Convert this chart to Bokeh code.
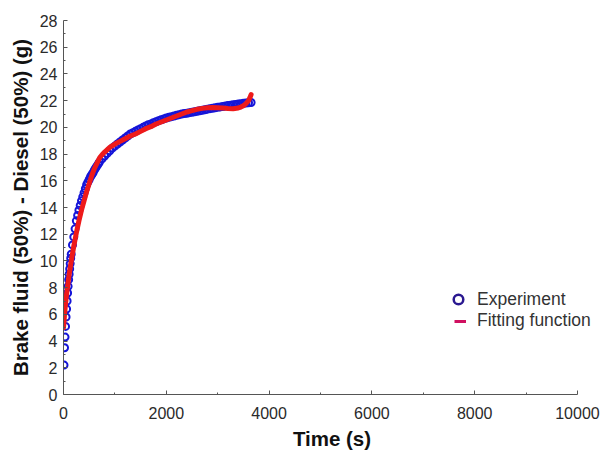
from bokeh.plotting import figure
from bokeh.models import Range1d, FixedTicker, Legend, LegendItem
from bokeh.embed import file_html
from bokeh.resources import INLINE

# Experiment (blue circles): time (s), mass (g)
exp_t = [10, 20, 30, 40, 50, 60, 70, 80, 90, 100, 110, 120, 130, 140, 150,
         175, 200, 225, 250, 275, 300, 325, 350, 375, 400, 425, 450, 475, 500,
         525, 550, 575, 600, 625, 650, 675, 700,
         750, 800, 850, 900, 950, 1000, 1050, 1100, 1150, 1200, 1250, 1300,
         1350, 1400, 1450, 1500, 1550, 1600, 1650, 1700, 1750, 1800, 1850,
         1900, 1950, 2000, 2050, 2100, 2150, 2200, 2250, 2300, 2350, 2400,
         2450, 2500, 2550, 2600, 2650, 2700, 2750, 2800, 2850, 2900, 2950,
         3000, 3050, 3100, 3150, 3200, 3250, 3300, 3350, 3400, 3450, 3500,
         3550, 3600, 3650]
exp_m = [2.2, 3.5, 4.3, 5.1, 5.8, 6.4, 7.0, 7.6, 8.1, 8.6, 9.0, 9.4, 9.8, 10.2, 10.5,
         11.2, 11.8, 12.4, 13.0, 13.4, 13.8, 14.15, 14.5, 14.8, 15.1, 15.4, 15.7, 15.9, 16.1,
         16.3, 16.45, 16.6, 16.8, 16.95, 17.1, 17.25, 17.4,
         17.65, 17.85, 18.05, 18.25, 18.45, 18.6, 18.75, 18.9, 19.05, 19.2, 19.35, 19.5,
         19.6, 19.7, 19.8, 19.9, 20.0, 20.1, 20.2, 20.25, 20.35, 20.42, 20.5,
         20.57, 20.63, 20.7, 20.75, 20.8, 20.85, 20.9, 20.95, 21.0, 21.03, 21.06,
         21.1, 21.13, 21.17, 21.2, 21.24, 21.28, 21.32, 21.36, 21.4, 21.43, 21.46,
         21.5, 21.53, 21.56, 21.6, 21.63, 21.66, 21.7, 21.72, 21.75, 21.77, 21.8,
         21.82, 21.84, 21.86]

# Fitting function (red line)
fit_t = [0, 10, 20, 30, 40, 60, 80, 100, 130, 160, 200, 250, 300, 350, 400, 450,
         500, 550, 600, 650, 700, 750, 800, 900, 1000, 1100, 1200, 1300, 1400,
         1500, 1600, 1700, 1800, 1900, 2000, 2100, 2200, 2300, 2400, 2500, 2600,
         2700, 2800, 2900, 3000, 3100, 3200, 3300, 3400, 3450, 3500, 3550, 3600,
         3630, 3650]
fit_m = [5.0, 5.5, 6.0, 6.4, 6.8, 7.5, 8.1, 8.7, 9.5, 10.2, 11.1, 12.1, 13.0, 13.8, 14.5, 15.2,
         15.8, 16.4, 16.9, 17.3, 17.7, 17.95, 18.15, 18.5, 18.75, 18.95, 19.15, 19.35, 19.5,
         19.7, 19.9, 20.05, 20.25, 20.4, 20.55, 20.7, 20.85, 21.0, 21.15, 21.25, 21.35,
         21.42, 21.47, 21.48, 21.47, 21.45, 21.42, 21.4, 21.45, 21.52, 21.62, 21.78, 22.0,
         22.25, 22.45]

x_ticks = [0, 2000, 4000, 6000, 8000, 10000]
x_minor = [1000, 3000, 5000, 7000, 9000]
y_ticks = [0, 2, 4, 6, 8, 10, 12, 14, 16, 18, 20, 22, 24, 26, 28]
y_minor = [1, 3, 5, 7, 9, 11, 13, 15, 17, 19, 21, 23, 25, 27]

FONT = "Liberation Sans"
NAN = float("nan")

# frame spans to the canvas edge so the legend text is not clipped;
# the x axis line itself is bounded to 0..10000
p = figure(width=600, height=452,
           min_border_left=63, min_border_right=0, min_border_top=20, min_border_bottom=56,
           x_range=Range1d(0, 10448), y_range=Range1d(0, 28),
           output_backend="svg", toolbar_location=None)
p.outline_line_color = None
p.xgrid.visible = False
p.ygrid.visible = False
p.background_fill_color = "white"
p.border_fill_color = "white"

p.xaxis.ticker = FixedTicker(ticks=x_ticks, minor_ticks=x_minor)
p.yaxis.ticker = FixedTicker(ticks=y_ticks, minor_ticks=y_minor)
p.xaxis.bounds = (0, 10000)

for ax in (p.xaxis[0], p.yaxis[0]):
    ax.axis_line_color = "#555555"
    ax.major_tick_line_color = "#555555"
    ax.minor_tick_line_color = "#555555"
    ax.major_tick_in = 4
    ax.major_tick_out = 0
    ax.minor_tick_in = 2
    ax.minor_tick_out = 0
    ax.major_label_text_font = FONT
    ax.major_label_text_font_size = "16px"
    ax.major_label_text_color = "#2a2a2a"
    ax.axis_label_text_font = FONT
    ax.axis_label_text_font_size = "20.5px"
    ax.axis_label_text_font_style = "bold"
    ax.axis_label_text_color = "#111111"

p.xaxis.axis_label = "Time (s)"
p.yaxis.axis_label = "Brake fluid (50%) - Diesel (50%) (g)"
p.yaxis.major_label_standoff = 6
p.xaxis.major_label_standoff = 12
p.yaxis.axis_label_standoff = 5
p.xaxis.axis_label_standoff = 5

p.scatter(exp_t, exp_m, marker="circle", size=7, fill_color=None,
          line_color="#1515d8", line_width=2)
p.line(fit_t, fit_m, line_color="#ee1a1a", line_width=5, line_cap="round", line_join="round")

# legend proxies (NaN data so they draw nothing in the plot area)
leg_c = p.scatter([NAN], [NAN], marker="circle", size=10, fill_color=None,
                  line_color="#2a1890", line_width=2.5)
leg_l = p.line([NAN, NAN], [NAN, NAN], line_color="#d01060", line_width=3)

common = dict(orientation="vertical", spacing=0, padding=0, margin=0,
              border_line_color=None, background_fill_alpha=0,
              label_text_font=FONT, label_text_font_size="17.5px",
              label_text_color="#333333")
legend1 = Legend(items=[LegendItem(label="Experiment", renderers=[leg_c])],
                 location=(383, 83), glyph_width=24, glyph_height=24,
                 label_height=24, label_standoff=7, **common)
legend2 = Legend(items=[LegendItem(label="Fitting function", renderers=[leg_l])],
                 location=(391, 63), glyph_width=12, glyph_height=20,
                 label_height=20, label_standoff=11, **common)
p.add_layout(legend1, "center")
p.add_layout(legend2, "center")

open("out.html", "w").write(file_html(p, INLINE))
